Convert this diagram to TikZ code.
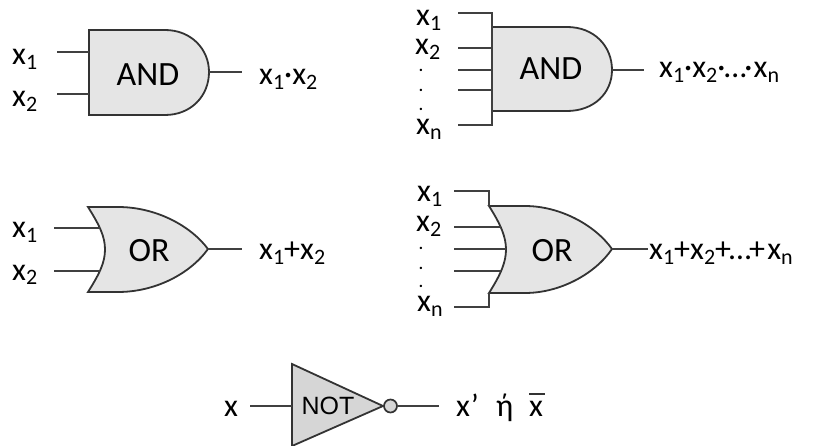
\documentclass[tikz,border=0pt]{standalone}
\usepackage{fontspec}
\setmainfont{Carlito}
\newfontfamily\notfont{Liberation Sans}
\newcommand{\xs}[1]{x\raisebox{-0.3ex}{\fontsize{22}{22}\selectfont #1}}
\tikzset{
  wire/.style={draw=black!75,line width=1.8pt},
  gate/.style={draw=black!80,line width=1.8pt,fill=black!10},
  notgate/.style={draw=black!80,line width=1.8pt,fill=black!16},
  bubble/.style={circle,draw=black!80,line width=1.7pt,fill=black!16,minimum size=13pt,inner sep=0pt},
  txt/.style={inner sep=0pt,anchor=base west,font=\fontsize{32}{32}\selectfont},
  gatetxt/.style={inner sep=0pt,font=\fontsize{34}{34}\selectfont},
  dotx/.style={inner sep=0pt,font=\bfseries\fontsize{16}{16}\selectfont}
}
\begin{document}
\begin{tikzpicture}[x=1pt,y=-1pt]
\useasboundingbox (0,0) rectangle (819,446);
% AND 2 inputs
\coordinate (a1nw) at (89,30); \coordinate (a1sw) at (89,115); \coordinate (a1o) at (209,72);
\draw[gate] (a1nw) -- (165,30) .. controls (191,30) and (209,49) .. (a1o) .. controls (209,96) and (191,115) .. (165,115) -- (a1sw) -- cycle;
\coordinate (a1i1s) at (57,52); \coordinate (a1i1e) at (89,52);
\coordinate (a1i2s) at (57,94); \coordinate (a1i2e) at (89,94);
\coordinate (a1oe) at (242,72);
\draw[wire] (a1i1s) -- (a1i1e);
\draw[wire] (a1i2s) -- (a1i2e);
\draw[wire] (a1o) -- (a1oe);
\node[gatetxt] (a1t) at (148,75) {AND};
\node[txt] (a1x1) at (12,65) {\xs{1}};
\node[txt] (a1x2) at (12,107) {\xs{2}};
\node[txt] (a1out) at (259,85) {\xs{1}·\xs{2}};
% AND n inputs
\coordinate (a2nw) at (492,27); \coordinate (a2sw) at (492,111); \coordinate (a2o) at (612,70);
\draw[gate] (a2nw) -- (567,27) .. controls (594,27) and (612,46) .. (a2o) .. controls (612,93) and (594,111) .. (567,111) -- (a2sw) -- cycle;
\coordinate (a2t1) at (458,13); \coordinate (a2t2) at (492,13); \coordinate (a2b2) at (492,125); \coordinate (a2b1) at (458,125);
\draw[wire] (a2t1) -- (a2t2) -- (a2b2) -- (a2b1);
\foreach \n/\y in {a/48,b/70,c/90}{
  \coordinate (a2s\n) at (458,\y); \coordinate (a2e\n) at (492,\y);
  \draw[wire] (a2s\n) -- (a2e\n);
}
\coordinate (a2oe) at (644,70);
\draw[wire] (a2o) -- (a2oe);
\node[gatetxt] (a2t) at (551,69) {AND};
\node[txt] (a2x1) at (416,26) {\xs{1}};
\node[txt] (a2x2) at (415,55) {\xs{2}};
\node[dotx] (a2d1) at (421,70) {.};
\node[dotx] (a2d2) at (421,90) {.};
\node[dotx] (a2d3) at (421,109) {.};
\node[txt] (a2xn) at (416,135) {\xs{n}};
\node[txt] (a2out) at (659,78) {\xs{1}·\xs{2}·\kern-1pt…\kern-2pt·\kern-3pt\ \kern-3pt\xs{n}};
% OR 2 inputs
\coordinate (o1nw) at (88,207); \coordinate (o1sw) at (88,292); \coordinate (o1o) at (208,249);
\draw[gate] (o1nw) -- (118,207) .. controls (155,207) and (190,225) .. (o1o) .. controls (190,274) and (155,292) .. (118,292) -- (o1sw) .. controls (100,273) and (105,262) .. (105,249.5) .. controls (105,237) and (100,226) .. (o1nw) -- cycle;
\coordinate (o1i1s) at (54,228); \coordinate (o1i1e) at (100,228);
\coordinate (o1i2s) at (54,271); \coordinate (o1i2e) at (100,271);
\coordinate (o1oe) at (242,249);
\draw[wire] (o1i1s) -- (o1i1e);
\draw[wire] (o1i2s) -- (o1i2e);
\draw[wire] (o1o) -- (o1oe);
\node[gatetxt] (o1t) at (149,251) {OR};
\node[txt] (o1x1) at (12,238) {\xs{1}};
\node[txt] (o1x2) at (12,280) {\xs{2}};
\node[txt] (o1out) at (259,260) {\xs{1}+\xs{2}};
% OR n inputs
\coordinate (o2nw) at (489,206); \coordinate (o2sw) at (489,293); \coordinate (o2o) at (612,249);
\draw[gate] (o2nw) -- (525,206) .. controls (560,206) and (595,225) .. (o2o) .. controls (595,274) and (560,293) .. (525,293) -- (o2sw) .. controls (501,274) and (506,262) .. (506,249.5) .. controls (506,237) and (501,225) .. (o2nw) -- cycle;
\coordinate (o2t1) at (454,191); \coordinate (o2t2) at (489,191);
\coordinate (o2b1) at (454,307); \coordinate (o2b2) at (489,307);
\draw[wire] (o2t1) -- (o2t2) -- (o2nw);
\draw[wire] (o2b1) -- (o2b2) -- (o2sw);
\foreach \n/\y/\e in {a/227/501,b/249/506,c/271/501}{
  \coordinate (o2s\n) at (454,\y); \coordinate (o2e\n) at (\e,\y);
  \draw[wire] (o2s\n) -- (o2e\n);
}
\coordinate (o2oe) at (648,249);
\draw[wire] (o2o) -- (o2oe);
\node[gatetxt] (o2t) at (552,251) {OR};
\node[txt] (o2x1) at (417,202) {\xs{1}};
\node[txt] (o2x2) at (416,232) {\xs{2}};
\node[dotx] (o2d1) at (421,248) {.};
\node[dotx] (o2d2) at (421,268) {.};
\node[dotx] (o2d3) at (421,286) {.};
\node[txt] (o2xn) at (417,312) {\xs{n}};
\node[txt] (o2out) at (649,260) {\xs{1}+\xs{2}+\kern-2pt…\kern-2pt+\kern-3pt\ \kern-2pt\xs{n}};
% NOT
\coordinate (nnw) at (292,364); \coordinate (nsw) at (292,446); \coordinate (no) at (383,406);
\draw[notgate] (nnw) -- (no) -- (nsw) -- cycle;
\node[bubble] (nb) at (390.5,406) {};
\coordinate (nis) at (250,406); \coordinate (nie) at (292,406); \coordinate (noe) at (439,406);
\draw[wire] (nis) -- (nie);
\draw[wire] (nb) -- (noe);
\node[inner sep=0pt,font=\notfont\fontsize{25}{25}\selectfont] (nt) at (328,406) {NOT};
\node[txt] (nx) at (224,416) {x};
\node[txt] (nout) at (456,416) {x’};
\node[txt] (neta) at (496,416) {ή};
\node[txt] (nbar) at (529,416) {x};
\coordinate (bl) at (529,394); \coordinate (br) at (545,394);
\draw[draw=black!80,line width=1.3pt] (bl) -- (br);
\end{tikzpicture}
\end{document}
